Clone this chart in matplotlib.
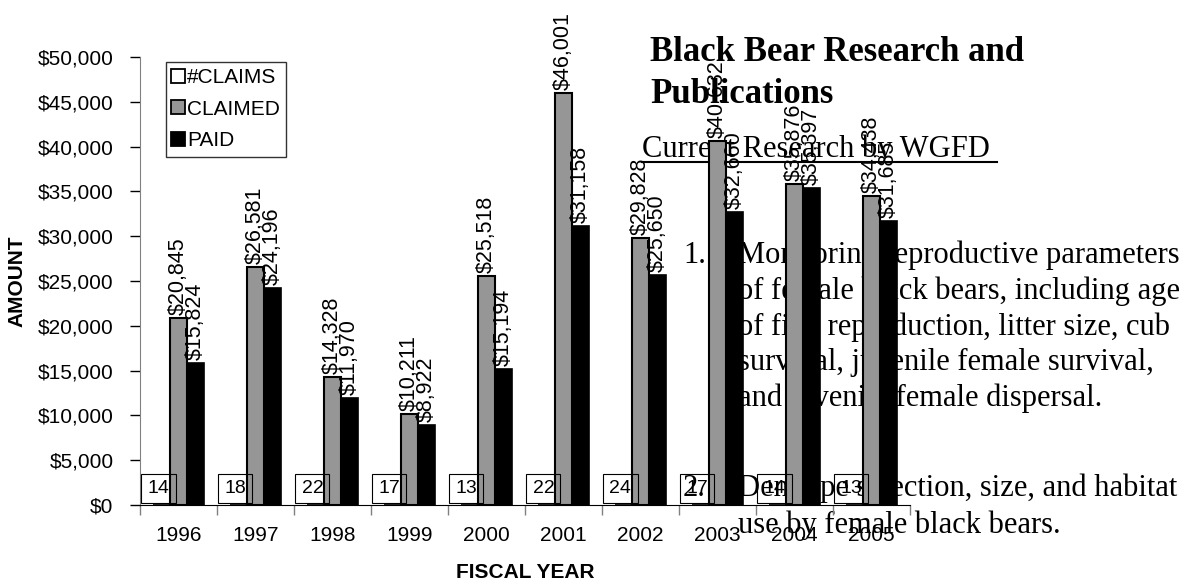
import matplotlib.pyplot as plt
import numpy as np
from matplotlib.lines import Line2D
from matplotlib.ticker import FuncFormatter

# data
years = ["1996", "1997", "1998", "1999", "2000", "2001", "2002", "2003", "2004", "2005"]
n_claims = [14, 18, 22, 17, 13, 22, 24, 17, 14, 13]
claimed = [20845, 26581, 14328, 10211, 25518, 46001, 29828, 40632, 35876, 34438]
paid = [15824, 24196, 11970, 8922, 15194, 31158, 25650, 32660, 35397, 31685]

W, H = 1202, 584
plt.rcParams['font.family'] = ['Liberation Sans', 'DejaVu Sans']

fig = plt.figure(figsize=(W / 100, H / 100), dpi=100)

# slide text that sits behind the chart
serif = ['Liberation Serif', 'DejaVu Serif']
def ftext(x, y, s, **kw):
    fig.text(x / W, 1 - y / H, s, family=serif, va='baseline', zorder=0, **kw)

ftext(650, 61, "Black Bear Research and", fontsize=25, weight='bold')
ftext(650, 103, "Publications", fontsize=25, weight='bold')
ftext(642, 157, "Current Research by WGFD", fontsize=22)
fig.add_artist(Line2D([642 / W, 997 / W], [1 - 162 / H, 1 - 162 / H],
                      color='black', lw=1.5, zorder=0))

item1 = ["Monitoring reproductive parameters",
         "of female black bears, including age",
         "of first reproduction, litter size, cub",
         "survival, juvenile female survival,",
         "and juvenile female dispersal."]
item2 = ["Den type selection, size, and habitat",
         "use by female black bears."]
ftext(683, 263, "1.", fontsize=22)
for i, line in enumerate(item1):
    ftext(738, 263 + i * 35.8, line, fontsize=22)
ftext(683, 496, "2.", fontsize=22)
for i, line in enumerate(item2):
    ftext(738, 496 + i * 36.5, line, fontsize=22)

# chart
ax = fig.add_axes([140 / W, 1 - 505 / H, 770 / W, 448 / H])
ax.set_zorder(1)
ax.patch.set_visible(False)

x = np.arange(len(years))
bw = 1 / 4.5
fs = 15

ax.bar(x - bw, n_claims, bw, color='white', edgecolor='black', lw=1.2)
ax.bar(x, claimed, bw, color='#969696', edgecolor='black', lw=1.5)
ax.bar(x + bw, paid, bw, color='black', edgecolor='black', lw=1.2)

# boxed count labels and rotated dollar labels
for xi, v in zip(x - bw, n_claims):
    ax.annotate(str(v), (xi, v), xytext=(-3, 8), textcoords='offset pixels',
                ha='center', va='bottom', fontsize=14,
                bbox=dict(boxstyle='square,pad=0.32', fc='none', ec='black', lw=0.8))
for xs, vals in ((x, claimed), (x + bw, paid)):
    for xi, v in zip(xs, vals):
        ax.annotate(f"${v:,}", (xi, v), xytext=(0, 3), textcoords='offset pixels',
                    ha='center', va='bottom', rotation=90, fontsize=15.5)

ax.set_xlim(-0.5, len(years) - 0.5)
ax.set_ylim(0, 50000)
ax.set_yticks(np.arange(0, 50001, 5000))
ax.yaxis.set_major_formatter(FuncFormatter(lambda v, p: f"${v:,.0f}"))
ax.tick_params(axis='y', direction='out', length=7, width=1, pad=12, labelsize=fs)

ax.set_xticks(x)
ax.set_xticklabels(years)
ax.set_xticks(np.arange(-0.5, len(years)), minor=True)
ax.tick_params(axis='x', which='major', length=0, pad=15, labelsize=fs)
ax.tick_params(axis='x', which='minor', direction='out', length=7, width=1, color='#808080')

for s in ('top', 'right'):
    ax.spines[s].set_visible(False)
ax.spines['left'].set_color('#808080')
ax.spines['bottom'].set_color('black')

fig.text(525 / W, 1 - 573 / H, "FISCAL YEAR", ha='center', va='center',
         fontsize=fs, weight='bold')
fig.text(17 / W, 1 - 281 / H, "AMOUNT", ha='center', va='center',
         rotation=90, fontsize=fs, weight='bold')

handles = [Line2D([], [], ls='none', marker='s', ms=10, mfc=c, mec='black', mew=1.3)
           for c in ('white', '#969696', 'black')]
leg = fig.legend(handles, ["#CLAIMS", "CLAIMED", "PAID"], loc='upper left',
                 bbox_to_anchor=(166 / W, 1 - 62 / H), borderaxespad=0,
                 fontsize=fs, frameon=True, fancybox=False, edgecolor='black',
                 handlelength=0.55, handletextpad=0.15, labelspacing=0.6,
                 borderpad=0.3)
leg.get_frame().set_linewidth(1)

fig.savefig("out.png", dpi=100)
